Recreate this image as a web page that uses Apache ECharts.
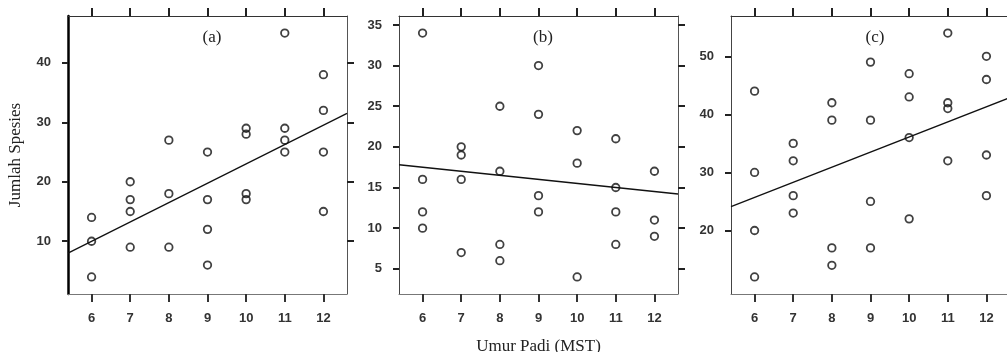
<!DOCTYPE html>
<html>
<head>
<meta charset="utf-8">
<script src="https://cdn.jsdelivr.net/npm/echarts@6/dist/echarts.min.js"></script>
<style>
  html, body { margin: 0; padding: 0; background: #fff; }
  #chart { width: 1007px; height: 352px; }
</style>
</head>
<body>
<div id="chart"></div>
<script>
// umur padi (MST) and jumlah spesies per panel
const xA = [6, 6, 6, 7, 7, 7, 7, 8, 8, 8, 9, 9, 9, 9, 10, 10, 10, 10, 11, 11, 11, 11, 12, 12, 12, 12];
const yA = [14, 10, 4, 20, 17, 15, 9, 27, 18, 9, 25, 17, 12, 6, 29, 28, 18, 17, 45, 29, 27, 25, 38, 32, 25, 15];

const xB = [6, 6, 6, 6, 7, 7, 7, 7, 8, 8, 8, 8, 9, 9, 9, 9, 10, 10, 10, 11, 11, 11, 11, 12, 12, 12];
const yB = [34, 16, 12, 10, 20, 19, 16, 7, 25, 17, 8, 6, 30, 24, 14, 12, 22, 18, 4, 21, 15, 12, 8, 17, 11, 9];

const xC = [6, 6, 6, 6, 7, 7, 7, 7, 8, 8, 8, 8, 9, 9, 9, 9, 10, 10, 10, 10, 11, 11, 11, 11, 12, 12, 12, 12];
const yC = [44, 30, 20, 12, 35, 32, 26, 23, 42, 39, 17, 14, 49, 39, 25, 17, 47, 43, 36, 22, 54, 42, 41, 32, 50, 46, 33, 26];

// fitted lines, end points
const lineA = [[5.39, 8.0], [12.61, 31.5]];
const lineB = [[5.39, 17.8], [12.61, 14.2]];
const lineC = [[5.39, 24.1], [12.61, 42.9]];

const xTicks = [6, 7, 8, 9, 10, 11, 12];
const yTicksA = [10, 20, 30, 40];
const yTicksB = [5, 10, 15, 20, 25, 30, 35];
const yTicksC = [20, 30, 40, 50];

const panels = ['(a)', '(b)', '(c)'];
const xName = 'Umur Padi (MST)';
const yName = 'Jumlah Spesies';

const zip = (xs, ys) => xs.map((x, i) => [x, ys[i]]);

const lbl = { fontFamily: 'Liberation Sans', fontSize: 13, fontWeight: 'bold', color: '#333' };
const serif = { fontFamily: 'Liberation Serif', fontSize: 17, color: '#222' };

const grids = [
    { left: 68, top: 16, width: 279, height: 278, outerBoundsMode: 'none' },
    { left: 399, top: 16, width: 279, height: 278, outerBoundsMode: 'none' },
    { left: 731, top: 16, width: 279, height: 278, outerBoundsMode: 'none' }
];
const yRanges = [[1.13, 47.87], [1.9, 36.1], [9.06, 56.94]];
const yTicks = [yTicksA, yTicksB, yTicksC];

const xAxis = [];
const yAxis = [];
grids.forEach((g, i) => {
    xAxis.push({
        type: 'value', gridIndex: i, position: 'bottom', min: 5.39, max: 12.61,
        splitLine: { show: false },
        axisLine: { lineStyle: { color: '#777', width: 1 } },
        axisTick: { customValues: xTicks, length: 8, lineStyle: { color: '#333', width: 2 } },
        axisLabel: { customValues: xTicks, margin: 18, ...lbl },
        name: i === 1 ? xName : '', nameLocation: 'middle', nameGap: 44,
        nameTextStyle: serif
    });
    xAxis.push({
        type: 'value', gridIndex: i, position: 'top', min: 5.39, max: 12.61,
        splitLine: { show: false },
        axisLine: { lineStyle: { color: '#333', width: 1 } },
        axisTick: { customValues: xTicks, length: 8, lineStyle: { color: '#222', width: 2 } },
        axisLabel: { show: false }
    });
    yAxis.push({
        type: 'value', gridIndex: i, position: 'left', min: yRanges[i][0], max: yRanges[i][1],
        splitLine: { show: false },
        axisLine: { lineStyle: { color: i === 0 ? '#000' : '#444', width: i === 0 ? 2.5 : 1 } },
        axisTick: { customValues: yTicks[i], length: 6, lineStyle: { color: '#222', width: 2 } },
        axisLabel: { customValues: yTicks[i], margin: 17, ...lbl },
        name: i === 0 ? yName : '', nameLocation: 'middle', nameGap: 44,
        nameTextStyle: serif
    });
    yAxis.push({
        type: 'value', gridIndex: i, position: 'right', min: yRanges[i][0], max: yRanges[i][1],
        splitLine: { show: false },
        axisLine: { lineStyle: { color: '#555', width: 1 } },
        axisTick: { customValues: yTicks[i], length: 7, lineStyle: { color: '#222', width: 2 } },
        axisLabel: { show: false }
    });
});

const dots = (data, i) => ({
    type: 'scatter', xAxisIndex: i * 2, yAxisIndex: i * 2, data,
    symbol: 'circle', symbolSize: 7.5,
    itemStyle: { color: 'transparent', borderColor: '#111', borderWidth: 1.8 },
    z: 3
});
const fit = (data, i) => ({
    type: 'line', xAxisIndex: i * 2, yAxisIndex: i * 2, data,
    symbol: 'none', lineStyle: { color: '#111', width: 1.3 }, z: 2
});

const option = {
    animation: false,
    title: panels.map((t, i) => ({
        text: t,
        left: grids[i].left + 139, top: 24, textAlign: 'center',
        textStyle: { ...serif, fontWeight: 'normal' }
    })),
    grid: grids,
    xAxis,
    yAxis,
    series: [
        dots(zip(xA, yA), 0), fit(lineA, 0),
        dots(zip(xB, yB), 1), fit(lineB, 1),
        dots(zip(xC, yC), 2), fit(lineC, 2)
    ]
};

const myChart = echarts.init(document.getElementById('chart'));
myChart.setOption(option);
</script>
</body>
</html>
